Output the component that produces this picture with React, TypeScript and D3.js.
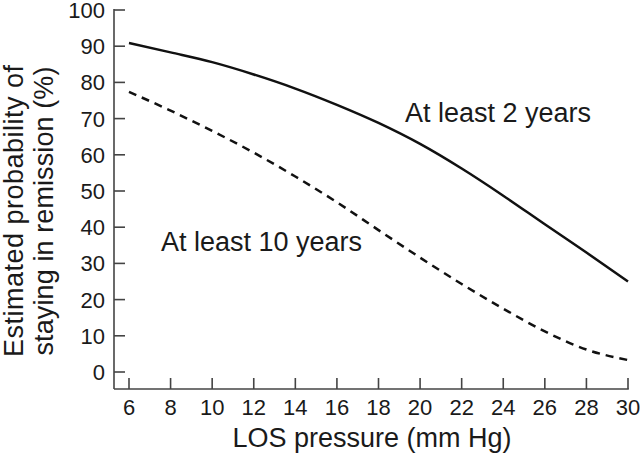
import React from "react";
import * as d3 from "d3";

const losPressure = [6, 8, 10, 12, 14, 16, 18, 20, 22, 24, 26, 28, 30];
const atLeast2Years = [90.9, 88.3, 85.6, 82.2, 78.3, 73.8, 68.8, 63.0, 56.2, 48.7, 40.8, 33.0, 25.0];
const atLeast10Years = [77.4, 72.2, 66.6, 60.6, 54.0, 46.9, 39.2, 31.6, 24.3, 17.5, 11.2, 6.2, 3.3];
const xTicks = [6, 8, 10, 12, 14, 16, 18, 20, 22, 24, 26, 28, 30];
const yTicks = [0, 10, 20, 30, 40, 50, 60, 70, 80, 90, 100];
const seriesLabels = ["At least 2 years", "At least 10 years"];
const xTitle = "LOS pressure (mm Hg)";
const yTitleLines = ["Estimated probability of", "staying in remission (%)"];

const W = 640;
const H = 458;
const FONT = "'Liberation Sans', Arial, sans-serif";

export default function App() {
  const x = d3.scaleLinear().domain([6, 30]).range([129, 628]);
  const y = d3.scaleLinear().domain([0, 100]).range([372, 10]);
  const axisX = x(6) - 15;
  const axisY = y(0) + 17;

  const line = d3
    .line<[number, number]>()
    .x((d) => x(d[0]))
    .y((d) => y(d[1]))
    .curve(d3.curveMonotoneX);

  const solid = line(losPressure.map((p, i) => [p, atLeast2Years[i]]) as [number, number][]) || "";
  const dashed = line(losPressure.map((p, i) => [p, atLeast10Years[i]]) as [number, number][]) || "";

  const axisColor = "#444";
  const textColor = "#1a1a1a";
  const yTitleCenter = 211;

  return (
    <svg
      width={W}
      height={H}
      viewBox={`0 0 ${W} ${H}`}
      style={{ position: "absolute", left: 0, top: 0, background: "#fff" }}
      fontFamily={FONT}
    >
      <rect x={0} y={0} width={W} height={H} fill="#fff" />
      {/* axes */}
      <line x1={axisX} x2={axisX} y1={y(100) - 1} y2={axisY} stroke={axisColor} strokeWidth={1.6} />
      <line x1={axisX} x2={x(30) + 0.8} y1={axisY} y2={axisY} stroke={axisColor} strokeWidth={1.6} />
      {yTicks.map((t) => (
        <g key={"y" + t}>
          <line x1={axisX} x2={axisX + 11} y1={y(t)} y2={y(t)} stroke={axisColor} strokeWidth={1.6} />
          <text
            x={105}
            y={y(t) + 8}
            textAnchor="end"
            fontSize={22}
            fill={textColor}
          >
            {t}
          </text>
        </g>
      ))}
      {xTicks.map((t) => (
        <g key={"x" + t}>
          <line x1={x(t)} x2={x(t)} y1={axisY} y2={axisY - 11} stroke={axisColor} strokeWidth={1.6} />
          <text x={x(t)} y={415} textAnchor="middle" fontSize={22} fill={textColor}>
            {t}
          </text>
        </g>
      ))}
      {/* curves */}
      <path d={solid} fill="none" stroke="#111" strokeWidth={2.5} />
      <path d={dashed} fill="none" stroke="#111" strokeWidth={2.5} strokeDasharray="8,6" />
      {/* annotations */}
      <text x={405} y={122} fontSize={27} fill={textColor}>
        {seriesLabels[0]}
      </text>
      <text x={161} y={251} fontSize={27} fill={textColor}>
        {seriesLabels[1]}
      </text>
      {/* axis titles */}
      <text x={372} y={447} textAnchor="middle" fontSize={27} fill={textColor}>
        {xTitle}
      </text>
      <text
        transform={`translate(23, ${yTitleCenter}) rotate(-90)`}
        textAnchor="middle"
        fontSize={27}
        textLength={292}
        lengthAdjust="spacing"
        fill={textColor}
      >
        {yTitleLines[0]}
      </text>
      <text
        transform={`translate(53, ${yTitleCenter}) rotate(-90)`}
        textAnchor="middle"
        fontSize={27}
        textLength={289}
        lengthAdjust="spacing"
        fill={textColor}
      >
        {yTitleLines[1]}
      </text>
    </svg>
  );
}
